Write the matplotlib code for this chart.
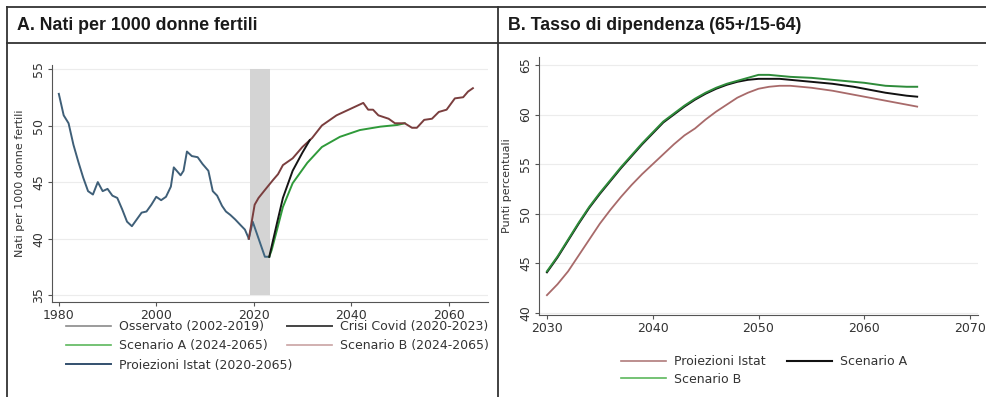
import matplotlib
matplotlib.use("Agg")
import matplotlib.pyplot as plt
from matplotlib.lines import Line2D

# ---- Panel A: births per 1000 fertile women ----
obs_years = [1980, 1981, 1982, 1983, 1984, 1985, 1986, 1987, 1988, 1989,
             1990, 1991, 1992, 1993, 1994, 1995, 1996, 1997, 1998, 1999,
             2000, 2001, 2002, 2003, 2003.6, 2005, 2005.6, 2006.3, 2007.3,
             2008.5, 2009.5, 2010.7, 2011.6, 2012.5, 2013.5, 2014.3, 2015.2,
             2016.2, 2017.3, 2018.2, 2019]
obs_vals = [52.8, 50.9, 50.2, 48.3, 46.8, 45.4, 44.2, 43.9, 45.0, 44.2,
            44.4, 43.8, 43.6, 42.6, 41.5, 41.1, 41.7, 42.3, 42.4, 43.0,
            43.7, 43.4, 43.7, 44.6, 46.3, 45.6, 46.0, 47.7, 47.3,
            47.2, 46.6, 46.0, 44.2, 43.8, 42.9, 42.4, 42.1,
            41.7, 41.2, 40.8, 40.0]

covid_years = [2019, 2019.8, 2022.3, 2023.2]
covid_vals = [40.0, 41.5, 38.4, 38.4]

scen_b_years = [2019, 2020.2, 2021, 2022.3, 2024, 2025, 2026, 2028, 2030, 2032,
                2034, 2037, 2040, 2042.5, 2043.5, 2044.5, 2045.6, 2047.7, 2049,
                2051, 2052.5, 2053.5, 2055, 2056.6, 2058, 2059.6, 2061.3, 2063,
                2064, 2065]
scen_b_vals = [40.0, 43.0, 43.6, 44.3, 45.2, 45.7, 46.5, 47.1, 48.1, 48.9,
               50.0, 50.9, 51.5, 52.0, 51.4, 51.4, 50.9, 50.6, 50.2,
               50.2, 49.8, 49.8, 50.5, 50.6, 51.2, 51.4, 52.4, 52.5,
               53.0, 53.3]

black_years = [2023.2, 2024.8, 2026, 2028, 2030, 2031.5]
black_vals = [38.4, 41.4, 43.6, 46.0, 47.6, 48.7]

scen_a_years = [2023.2, 2023.7, 2024.8, 2026, 2028, 2031, 2034, 2037.7, 2041.8,
                2046, 2049.5, 2051]
scen_a_vals = [38.4, 39.0, 40.8, 42.8, 44.9, 46.7, 48.1, 49.0, 49.6,
               49.9, 50.05, 50.2]

covid_band = (2019.2, 2023.3)

# ---- Panel B: dependency ratio ----
dep_years = [2030, 2031, 2032, 2033, 2034, 2035, 2036, 2037, 2038, 2039,
             2040, 2041, 2042, 2043, 2044, 2045, 2046, 2047, 2048, 2049,
             2050, 2051, 2052, 2053, 2055, 2057, 2059, 2060, 2062, 2064, 2065]
istat_vals = [41.8, 42.9, 44.2, 45.8, 47.4, 49.0, 50.4, 51.7, 52.9, 54.0,
              55.0, 56.0, 57.0, 57.9, 58.6, 59.5, 60.3, 61.0, 61.7, 62.2,
              62.6, 62.8, 62.9, 62.9, 62.7, 62.4, 62.0, 61.8, 61.4, 61.0, 60.8]
scen_a_dep = [44.1, 45.6, 47.3, 49.0, 50.6, 52.0, 53.3, 54.6, 55.8, 57.0,
              58.1, 59.2, 60.0, 60.8, 61.5, 62.1, 62.6, 63.0, 63.3, 63.5,
              63.6, 63.6, 63.6, 63.5, 63.3, 63.1, 62.8, 62.6, 62.2, 61.9, 61.8]
scen_b_dep = [44.2, 45.7, 47.4, 49.1, 50.7, 52.1, 53.4, 54.7, 55.9, 57.1,
              58.2, 59.3, 60.1, 60.9, 61.6, 62.2, 62.7, 63.1, 63.4, 63.7,
              64.0, 64.0, 63.9, 63.8, 63.7, 63.5, 63.3, 63.2, 62.9, 62.8, 62.8]

W, H = 987, 397
fig = plt.figure(figsize=(W / 100, H / 100), dpi=100)


def px_box(left, top, right, bottom):
    return [left / W, 1 - bottom / H, (right - left) / W, (bottom - top) / H]


def style_axes(ax):
    for s in ["top", "right"]:
        ax.spines[s].set_visible(False)
    for s in ["left", "bottom"]:
        ax.spines[s].set_color("#555555")
        ax.spines[s].set_linewidth(0.8)
    ax.tick_params(direction="out", length=3, width=0.8, color="#555555",
                   labelcolor="#333333", labelsize=9, pad=2)
    for lab in ax.get_yticklabels():
        lab.set_rotation(90)
        lab.set_va("center")
    ax.yaxis.grid(True, color="#ececec", lw=0.8)
    ax.set_axisbelow(True)


def add_legend(handles, labels, x, y_top, spacing=0.5):
    fig.legend(handles, labels, loc="upper left",
               bbox_to_anchor=(x / W, 1 - y_top / H), ncol=1, frameon=False,
               fontsize=9, borderpad=0, handlelength=3.6, handletextpad=0.6,
               labelspacing=spacing, labelcolor="#333333")


# Panel A
axA = fig.add_axes(px_box(52, 65, 488, 302))
axA.fill_between(covid_band, 35, 55, color="#d4d4d4", lw=0, zorder=1)
axA.plot(obs_years, obs_vals, color="#3f5f78", lw=1.4, zorder=3)
axA.plot(covid_years, covid_vals, color="#3f6580", lw=1.4, zorder=3)
axA.plot(scen_a_years, scen_a_vals, color="#2f9a3a", lw=1.4, zorder=3)
axA.plot(black_years, black_vals, color="#151515", lw=1.4, zorder=4)
axA.plot(scen_b_years, scen_b_vals, color="#7a3e3e", lw=1.4, zorder=3)
axA.set_xlim(1978.6, 2068.1)
axA.set_ylim(34.4, 55.35)
axA.set_xticks([1980, 2000, 2020, 2040, 2060])
axA.set_yticks([35, 40, 45, 50, 55])
axA.set_ylabel("Nati per 1000 donne fertili", fontsize=8, color="#333333", labelpad=5)
style_axes(axA)

add_legend([Line2D([], [], color="#8a8a8a", lw=1.2),
            Line2D([], [], color="#5cb85c", lw=1.2),
            Line2D([], [], color="#33506e", lw=1.4)],
           ["Osservato (2002-2019)", "Scenario A (2024-2065)",
            "Proiezioni Istat (2020-2065)"], 60, 314)
add_legend([Line2D([], [], color="#444444", lw=1.4),
            Line2D([], [], color="#c9a3a3", lw=1.2)],
           ["Crisi Covid (2020-2023)", "Scenario B (2024-2065)"], 281, 314)

# Panel B
axB = fig.add_axes(px_box(539, 57, 978, 315))
axB.plot(dep_years, istat_vals, color="#a86a6a", lw=1.3)
axB.plot(dep_years, scen_a_dep, color="#111111", lw=1.4)
axB.plot(dep_years, scen_b_dep, color="#2e8b3a", lw=1.4)
axB.set_xlim(2029.25, 2070.75)
axB.set_ylim(39.8, 65.8)
axB.set_xticks([2030, 2040, 2050, 2060, 2070])
axB.set_yticks([40, 45, 50, 55, 60, 65])
axB.set_ylabel("Punti percentuali", fontsize=8, color="#333333", labelpad=5)
style_axes(axB)

add_legend([Line2D([], [], color="#b07c7c", lw=1.2),
            Line2D([], [], color="#5cb85c", lw=1.2)],
           ["Proiezioni Istat", "Scenario B"], 615, 349, spacing=0.35)
add_legend([Line2D([], [], color="#111111", lw=1.5)],
           ["Scenario A"], 781, 349)

# header boxes and borders
frame_kw = dict(transform=fig.transFigure, color="#333333", lw=1.3)
fig.add_artist(Line2D([7 / W, 1], [1 - 7 / H, 1 - 7 / H], **frame_kw))
fig.add_artist(Line2D([7 / W, 1], [1 - 43 / H, 1 - 43 / H], **frame_kw))
fig.add_artist(Line2D([7 / W, 7 / W], [0, 1 - 7 / H], **frame_kw))
fig.add_artist(Line2D([498 / W, 498 / W], [0, 1 - 7 / H], **frame_kw))

title_font = ["Liberation Sans", "DejaVu Sans"]
fig.text(17 / W, 1 - 25 / H, "A. Nati per 1000 donne fertili", fontsize=12.8,
         fontweight="bold", family=title_font, va="center", ha="left", color="#1a1a1a")
fig.text(508 / W, 1 - 25 / H, "B. Tasso di dipendenza (65+/15-64)", fontsize=12.8,
         fontweight="bold", family=title_font, va="center", ha="left", color="#1a1a1a")

fig.savefig("out.png", dpi=100)
